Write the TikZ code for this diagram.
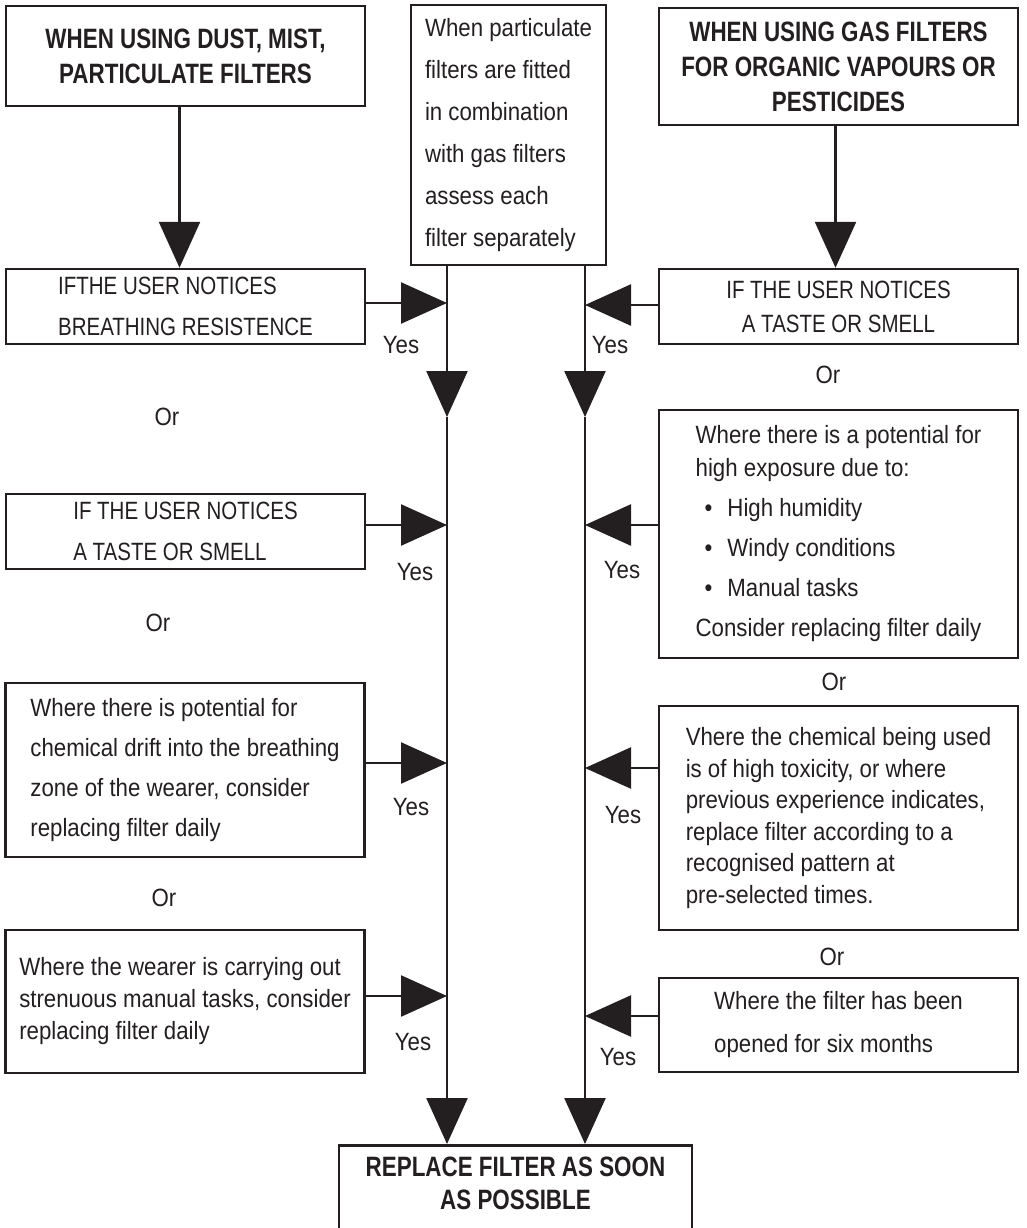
\documentclass[tikz,border=0pt]{standalone}
\usepackage{fontspec}
\setmainfont[FakeStretch=0.89]{Liberation Sans}
\newfontfamily\capsfont[FakeStretch=0.82]{Liberation Sans}
\newfontfamily\headfont[FakeStretch=0.8]{Liberation Sans}
\usetikzlibrary{arrows.meta}
\definecolor{ink}{HTML}{231F20}
\tikzset{
  box/.style={draw=ink, line width=2.5pt, minimum width=359pt, inner sep=0pt},
  flow/.style={draw=ink, line width=2.5pt, -{Triangle[length=46pt,width=41pt]}},
  head/.style={font=\headfont\bfseries\fontsize{28}{35}\selectfont, align=center},
  caps/.style={font=\capsfont\fontsize{25}{41}\selectfont, align=left},
  note/.style={font=\fontsize{25}{41}\selectfont, align=left},
  lbl/.style={font=\fontsize{25}{30}\selectfont, inner sep=0pt}
}
\begin{document}
\begin{tikzpicture}[x=1pt, y=-1pt, text=ink]
\useasboundingbox (0,0) rectangle (1026,1228);

% Top boxes
\node[box, minimum height=100pt, head] (dust) at (185.5,56) {WHEN USING DUST, MIST,\\PARTICULATE FILTERS};
\node[box, minimum width=195pt, minimum height=260pt, note, font=\fontsize{25}{42}\selectfont] (combo) at (508.5,135)
  {When particulate\\filters are fitted\\in combination\\with gas filters\\assess each\\filter separately};
\node[box, minimum height=117pt, head] (gas) at (838.5,66.5) {WHEN USING GAS FILTERS\\FOR ORGANIC VAPOURS OR\\PESTICIDES};

% Left column
\node[box, minimum height=75pt, caps] (res) at (185.5,306.5) {IFTHE USER NOTICES\\BREATHING RESISTENCE};
\node[box, minimum height=75pt, caps] (tasteL) at (185.5,531.5) {IF THE USER NOTICES\\A TASTE OR SMELL};
\node[box, minimum height=174pt, note, font=\fontsize{25}{40}\selectfont] (drift) at (185,770)
  {Where there is potential for\\chemical drift into the breathing\\zone of the wearer, consider\\replacing filter daily};
\node[box, minimum height=143pt, note, font=\fontsize{25}{32}\selectfont] (manual) at (185,1001.5)
  {Where the wearer is carrying out\\strenuous manual tasks, consider\\replacing filter daily};

% Right column
\node[box, minimum height=75pt, caps, align=center, font=\capsfont\fontsize{25}{34}\selectfont] (tasteR) at (838.5,306.5)
  {IF THE USER NOTICES\\A TASTE OR SMELL};
\node[box, minimum height=248pt, note, font=\fontsize{25}{33}\selectfont] (expo) at (838.5,534)
  {Where there is a potential for\\high exposure due to:\\[7pt]
   \hspace*{9pt}\textbullet\hspace*{15pt}High humidity\\[7pt]
   \hspace*{9pt}\textbullet\hspace*{15pt}Windy conditions\\[7pt]
   \hspace*{9pt}\textbullet\hspace*{15pt}Manual tasks\\[7pt]
   Consider replacing filter daily};
\node[box, minimum height=224pt, note, font=\fontsize{25}{31.5}\selectfont] (toxic) at (838.5,818)
  {Vhere the chemical being used\\is of high toxicity, or where\\previous experience indicates,\\replace filter according to a\\recognised pattern at\\pre-selected times.};
\node[box, minimum height=94pt, note, font=\fontsize{25}{43}\selectfont] (months) at (838.5,1025)
  {Where the filter has been\\opened for six months};

% Final box (runs off the bottom edge)
\node[box, minimum width=353pt, head, font=\headfont\bfseries\fontsize{28}{33}\selectfont, inner ysep=12pt, text depth=60pt, anchor=north] (fin) at (515.5,1144)
  {REPLACE FILTER AS SOON\\AS POSSIBLE};

% Main lines
\coordinate (ltop) at (447,265);
\coordinate (rtop) at (585,265);
\coordinate (lmid) at (447,417);
\coordinate (rmid) at (585,417);

\draw[flow] ([xshift=-6pt]dust.south) -- ([xshift=-6pt]res.north);
\draw[flow] ([xshift=-3pt]gas.south) -- ([xshift=-3pt]tasteR.north);
\draw[flow] (ltop) -- (lmid);
\draw[flow] (rtop) -- (rmid);
\draw[flow] (lmid) -- (lmid |- fin.north);
\draw[flow] (rmid) -- (rmid |- fin.north);

% Connections
\draw[flow] ([yshift=3.5pt]res.east) -- ([yshift=3.5pt]res.east -| lmid);
\draw[flow] ([yshift=6.5pt]tasteL.east) -- ([yshift=6.5pt]tasteL.east -| lmid);
\draw[flow] ([yshift=7pt]drift.east) -- ([yshift=7pt]drift.east -| lmid);
\draw[flow] ([yshift=5.5pt]manual.east) -- ([yshift=5.5pt]manual.east -| lmid);
\draw[flow] ([yshift=1.5pt]tasteR.west) -- ([yshift=1.5pt]tasteR.west -| rmid);
\draw[flow] ([yshift=9pt]expo.west) -- ([yshift=9pt]expo.west -| rmid);
\draw[flow] ([yshift=50pt]toxic.west) -- ([yshift=50pt]toxic.west -| rmid);
\draw[flow] ([yshift=9pt]months.west) -- ([yshift=9pt]months.west -| rmid);

% Labels
\node[lbl] (yes1) at (401,345) {Yes};
\node[lbl] (yes2) at (415,572) {Yes};
\node[lbl] (yes3) at (411,807) {Yes};
\node[lbl] (yes4) at (413,1042) {Yes};
\node[lbl] (yes5) at (610,345) {Yes};
\node[lbl] (yes6) at (622,570) {Yes};
\node[lbl] (yes7) at (623,815) {Yes};
\node[lbl] (yes8) at (618,1057) {Yes};
\node[lbl] (or1) at (167,417) {Or};
\node[lbl] (or2) at (158,623) {Or};
\node[lbl] (or3) at (164,898) {Or};
\node[lbl] (or4) at (828,375) {Or};
\node[lbl] (or5) at (834,682) {Or};
\node[lbl] (or6) at (832,957) {Or};

\end{tikzpicture}
\end{document}
